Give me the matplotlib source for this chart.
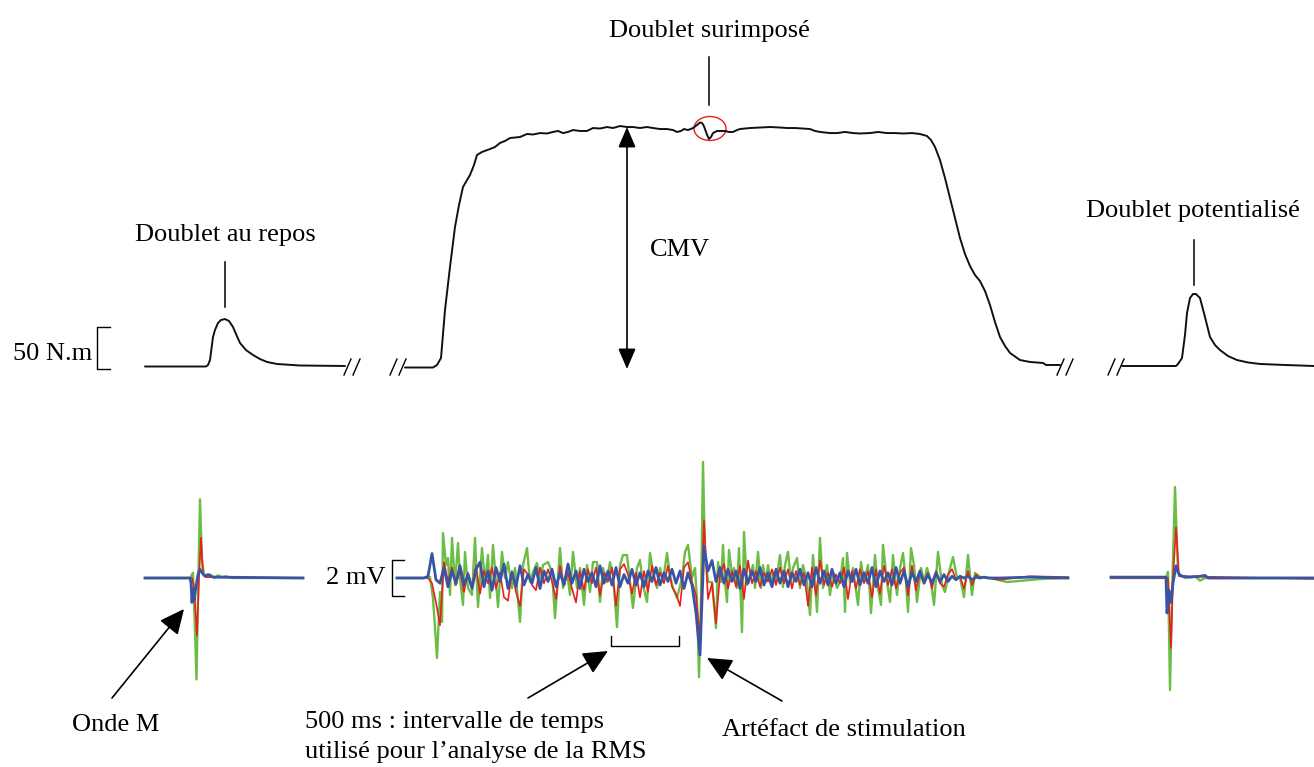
import numpy as np
import matplotlib
matplotlib.use("Agg")
import matplotlib.pyplot as plt
from matplotlib.patches import Ellipse

# ---------------- DATA ----------------
# Torque traces (x = time in drawing units, y = torque in N.m above baseline)
rest_t = [145, 206, 208, 210, 213, 215, 218, 221, 225, 229, 233, 236, 240, 246, 253, 260, 267, 277, 300, 345]
rest_nm = [0, 0, 1.8, 7.7, 35.1, 43.5, 51.8, 55.4, 56.5, 54.2, 47.0, 38.7, 28.0, 19.6, 13.7, 8.9, 5.4, 3.0, 1.2, 0.6]

mvc_t = [405, 433, 437, 441, 445, 450, 455, 459, 463, 467, 470, 474, 477, 482, 490, 495, 500, 505, 510, 520,
         527, 533, 540, 547, 553, 558, 563, 568, 573, 580, 587, 593, 600, 607, 613, 620, 627, 633, 640, 647,
         653, 660, 667, 673, 677, 681, 684, 688, 693, 697, 700, 702, 704, 707, 709, 711, 713, 717, 725, 729,
         733, 737, 740, 750, 760, 770, 780, 787, 795, 803, 810, 815, 820, 830, 837, 845, 853, 860, 870, 878,
         887, 895, 903, 912, 920, 927, 931, 935, 940, 945, 950, 955, 960, 965, 970, 975, 980, 985, 990, 995,
         1000, 1005, 1010, 1020, 1030, 1043, 1046, 1060]
mvc_nm = [-1.2, -1.2, 1.8, 10.1, 67.3, 118.5, 166.1, 192.3, 213.7, 222.0, 227.9, 239.9, 251.8, 255.4, 258.9, 261.3, 266.1, 268.5, 272.0, 273.2,
          276.8, 276.2, 277.9, 277.4, 279.2, 280.4, 277.9, 279.2, 281.5, 280.4, 280.4, 283.9, 283.3, 285.1, 283.9, 286.3, 285.1, 285.1, 283.9, 285.1,
          283.9, 282.7, 282.7, 281.5, 279.2, 280.4, 282.7, 281.5, 283.9, 287.5, 290.5, 290.0, 286.0, 276.0, 270.8, 273.2, 277.9, 280.4, 280.4, 279.2,
          279.2, 281.5, 282.7, 283.9, 284.5, 285.1, 284.5, 283.9, 283.9, 283.3, 282.7, 280.4, 279.2, 277.9, 277.9, 279.2, 277.9, 277.4, 277.9, 279.2,
          277.9, 277.9, 277.4, 277.9, 276.8, 274.4, 269.6, 261.3, 245.8, 224.4, 200.6, 176.7, 152.9, 133.9, 119.6, 108.9, 101.7, 89.9, 73.2, 52.9,
          35.1, 24.4, 16.1, 7.7, 5.4, 4.2, 1.8, 1.8]

pot_t = [1122, 1176, 1178, 1182, 1185, 1187, 1190, 1193, 1196, 1200, 1205, 1210, 1215, 1220, 1228, 1237, 1248, 1260, 1285, 1314]
pot_nm = [0.6, 0.6, 3.0, 10.1, 37.5, 63.7, 81.5, 86.3, 86.3, 81.5, 58.9, 35.1, 25.6, 19.6, 12.5, 7.7, 4.8, 3.0, 1.8, 0.6]

# EMG traces (mV), three muscles: green, red, blue
emg_rest_green_t = [145, 190, 193, 195, 196.5, 198, 200, 202, 204, 207, 210, 214, 218, 222, 226, 232, 303]
emg_rest_green = [0, 0, 0.3, -3.0, -5.8, -1.0, 4.5, 1.0, 0.2, 0.1, 0.2, 0.0, 0.15, 0.05, 0.1, 0, 0]
emg_rest_red_t = [145, 192, 194, 197, 199, 201, 203, 206, 303]
emg_rest_red = [0, 0, -0.5, -3.3, 0, 2.3, 0.2, 0.05, 0]
emg_rest_blue_t = [145, 190, 191, 192, 193, 194, 196, 198, 200, 202, 205, 208, 211, 214, 303]
emg_rest_blue = [0, 0, -0.3, -1.4, -0.6, -1.3, -0.5, 0.2, 0.5, 0.3, 0.1, 0.2, 0.1, 0.05, 0]

emg_mvc_green_t = [397, 425, 430, 433, 437, 440, 442, 443, 446, 448, 450, 452, 455, 458, 460, 463, 465, 468, 472, 475,
                   478, 482, 485, 488, 490, 493, 498, 502, 505, 508, 512, 515, 520, 523, 527, 530, 533, 537, 540, 543,
                   548, 552, 555, 558, 560, 563, 567, 570, 573, 577, 580, 584, 587, 590, 593, 597, 600, 603, 607, 610,
                   613, 617, 620, 623, 627, 630, 633, 637, 640, 643, 647, 650, 653, 657, 660, 663, 667, 670, 673, 677,
                   682, 685, 688, 692, 695, 697, 699, 701, 703, 705, 708, 712, 716, 718, 721, 723, 725, 727, 729, 732,
                   734, 737, 739, 742, 744, 747, 750, 753, 755, 758, 761, 763, 766, 768, 771, 773, 776, 780, 783, 785,
                   788, 791, 793, 797, 800, 803, 807, 810, 813, 817, 820, 823, 827, 830, 833, 837, 840, 843, 845, 847,
                   850, 853, 858, 861, 864, 868, 871, 875, 878, 881, 883, 887, 890, 893, 897, 900, 903, 906, 908, 911,
                   914, 917, 921, 924, 927, 931, 934, 938, 942, 945, 949, 953, 957, 960, 964, 968, 972, 975, 980, 990,
                   1007, 1040, 1068]
emg_mvc_green = [0, 0, 0.06, -1.14, -4.57, -0.80, -2.51, 2.57, 0.74, 1.14, -0.97, 2.29, -0.40, 2.00, 0, -1.54, 1.49, -0.57, -0.97, 2.29,
                 -1.66, 1.71, -0.23, 1.31, -1.14, 1.89, -1.66, 1.49, 0, 0.91, -0.57, 0.57, -2.51, 0.74, 1.71, -0.23, 0.34, 0.86, -0.23, 0.74,
                 0.91, 0.34, -2.29, 0, 1.71, -0.57, 0.34, -0.97, 1.49, -0.57, 0.57, -1.54, 0.74, -0.80, 0.91, 0.91, -1.37, 0.57, -0.23, 0.91,
                 0.17, -2.80, 0.74, 1.31, 1.31, -0.23, -1.71, 0.57, 1.03, -0.40, -1.37, 1.43, 0.34, -0.57, 0.57, -0.23, 1.43, 0.17, -0.57, -1.14,
                 0, 1.49, 1.89, 0, 0.57, -1.26, -5.66, -1.26, 6.63, 1.31, -0.23, -0.23, -2.86, 0.91, -0.23, 1.89, -0.23, -1.37, 1.60, 0.17,
                 0.57, -0.57, 1.71, -3.09, 2.63, -0.40, 0.17, 0.74, -0.57, 1.49, -0.57, 0.74, -0.23, 0.74, -0.40, 0.34, -0.23, 1.31, -0.51, 0.74,
                 1.49, -0.23, 0.57, 1.14, -0.57, 0.74, -0.23, -2.11, 1.31, -1.94, 2.29, -0.57, 0.74, -0.97, 0.34, -0.57, -0.23, 1.14, -1.94, 1.43,
                 -0.23, 0.57, -1.54, 0.91, -0.23, 0.74, -2.00, 1.31, -0.57, -1.54, 1.89, -0.23, -1.37, 1.31, -0.97, 0.57, 1.43, -0.23, -1.94, 1.71,
                 0.74, -1.37, 0.57, -0.23, 0.57, -0.23, -1.54, 1.49, -0.40, -0.80, 0.34, 1.20, 0, 0, -1.09, 1.31, -0.97, 0.29, 0.06, 0,
                 -0.23, -0.06, 0]

emg_mvc_grid_t = list(range(428, 989, 4))
emg_mvc_red = [0, -0.3, -1.4, -2.7, 0.9, -0.2, 0.6, -0.4, 0.5, -0.8, 0.3, -0.5, 0.7, -0.9, 0.4, -0.3, 0.6, -0.6, 0.3, -1.1,
               -1.3, 0.4, -0.8, -1.6, 0.5, 0.2, -0.4, -0.7, 0.6, -0.3, 0.5, -0.2, -1.2, 0.7, -0.4, 0.3, -0.6, -1.4, 0.4, -0.7,
               0.5, -0.3, 0.6, -1.0, 0.3, -0.2, 0.6, -1.6, 0.5, 0.8, 0.2, -0.9, 0.3, -1.1, 0.4, -0.8, 0.7, -0.4, 0.3, -0.3,
               0.7, -0.5, -0.9, -1.6, 0.6, 0.9, -0.2, -1.0, -3.5, 3.3, -1.2, -0.3, -2.6, 0.2, 0.8, -0.6, 0.4, -0.5, 0.7, -1.2,
               1.0, -0.3, 0.4, -0.5, 0.3, -0.2, 0.5, -0.4, 0.6, -0.3, 0.5, -0.6, 0.4, -0.4, 0.3, -1.6, 0.6, -1.0, 1.0, -0.4,
               0.3, -0.5, 0.2, -0.3, 0.6, -1.2, 0.4, -0.6, 0.5, -0.3, 0.4, -1.1, 0.5, -0.9, 0.7, -0.4, 0.5, -0.6, 0.3, 0.6,
               -1.0, 0.7, -0.7, 0.3, -0.2, 0.3, -0.6, 0.4, -0.3, -0.5, 0.2, 0.5, -0.1, 0.1, -0.6, 0.4, -0.4, 0.2, 0.0, 0.05,
               0.0]
emg_mvc_blue = [0.1, 1.4, -0.1, -0.3, 0.6, -0.5, 0.4, -0.3, 0.7, -0.4, 0.2, -0.6, 0.5, 0.9, -0.5, 0.4, -0.7, 0.6, -0.2, 0.8,
                -0.6, 0.3, -0.5, 0.7, -0.4, 0.2, -0.3, 0.6, -0.6, 0.4, -0.2, 0.5, -0.5, 0.3, -0.4, 0.8, -0.3, 0.4, -0.6, 0.5,
                -0.2, 0.3, -0.5, 0.7, -0.3, 0.4, -0.4, 0.6, -0.5, 0.2, -0.3, 0.5, -0.4, 0.3, -0.5, 0.4, -0.2, 0.6, -0.4, 0.3,
                -0.2, 0.5, -0.3, 0.4, -0.6, 0.3, -0.4, -2.0, -4.4, 1.8, 0.4, 1.0, -0.2, 0.6, -0.3, 0.5, -0.2, 0.4, -0.6, 0.5,
                -0.3, 0.4, -0.2, 0.6, -0.4, 0.3, -0.5, 0.5, -0.3, 0.4, -0.5, 0.3, -0.2, 0.5, -0.4, 0.3, -0.5, 0.6, -0.3, 0.4,
                -0.4, 0.5, -0.3, 0.3, -0.5, 0.4, -0.2, 0.5, -0.4, 0.3, -0.3, 0.6, -0.5, 0.4, -0.2, 0.3, -0.4, 0.6, -0.3, 0.4,
                -0.5, 0.3, -0.2, 0.4, -0.3, 0.2, -0.3, 0.3, -0.2, 0.2, -0.2, 0.1, -0.1, 0.1, 0.0, 0.1, -0.1, 0.05, 0.0, 0.05,
                0.0]
emg_mvc_head_t = [397, 424]
emg_mvc_tail_t = [988, 1000, 1030, 1068]
emg_mvc_red_tail = [0.0, -0.1, 0.1, 0.05]
emg_mvc_blue_tail = [0.0, 0.0, 0.05, 0.0]

emg_pot_green_t = [1111, 1166, 1168, 1170, 1172, 1175, 1178, 1185, 1195, 1200, 1205, 1314]
emg_pot_green = [0, 0, 0.35, -6.4, -1.0, 5.2, 0.3, 0, 0.1, -0.15, 0, 0]
emg_pot_red_t = [1111, 1168, 1171, 1173, 1176, 1179, 1314]
emg_pot_red = [0, 0, -4.0, 0, 2.9, 0.1, -0.05]
emg_pot_blue_t = [1111, 1166, 1167, 1169, 1171, 1173, 1176, 1179, 1182, 1190, 1200, 1205, 1208, 1314]
emg_pot_blue = [0.05, 0.05, -2.0, -0.7, -1.4, -0.3, 0.7, 0.2, 0.1, 0.05, 0.1, 0.15, 0, 0]

# ---------------- FIGURE ----------------
W, H = 1314, 767
fig = plt.figure(figsize=(W / 100, H / 100), dpi=100)
ax = fig.add_axes([0, 0, 1, 1])
ax.set_xlim(0, W)
ax.set_ylim(H, 0)
ax.axis("off")

# torque axes: baseline at 366.5 px, 50 N.m = 42 px
axT = fig.add_axes([0, 0, 1, 1], sharex=ax)
axT.set_ylim((366.5 - H) / 0.84, 366.5 / 0.84)
axT.axis("off")
axT.patch.set_alpha(0)
# EMG axes: baseline at 578 px, 2 mV = 35 px
axE = fig.add_axes([0, 0, 1, 1], sharex=ax)
axE.set_ylim((578 - H) / 17.5, 578 / 17.5)
axE.axis("off")
axE.patch.set_alpha(0)

kw = dict(color="#111111", lw=1.4, solid_joinstyle="round", solid_capstyle="round")
axT.plot(rest_t, rest_nm, **kw)
axT.plot(mvc_t, mvc_nm, **kw)
axT.plot(pot_t, pot_nm, **kw)

GREEN, RED, BLUE = "#6cbd45", "#e8201c", "#3a54a5"
jk = dict(solid_joinstyle="round")
gw, rw, bw = 1.7, 1.2, 2.0
axE.plot(emg_rest_green_t, emg_rest_green, color=GREEN, lw=gw, **jk)
axE.plot(emg_rest_red_t, emg_rest_red, color=RED, lw=rw, **jk)
axE.plot(emg_rest_blue_t, emg_rest_blue, color=BLUE, lw=bw, **jk)

axE.plot(emg_mvc_green_t, emg_mvc_green, color=GREEN, lw=gw, **jk)
axE.plot(emg_mvc_head_t + emg_mvc_grid_t + emg_mvc_tail_t[1:],
         [0, 0] + emg_mvc_red + emg_mvc_red_tail[1:], color=RED, lw=rw, **jk)
axE.plot(emg_mvc_head_t + emg_mvc_grid_t + emg_mvc_tail_t[1:],
         [0, 0] + emg_mvc_blue + emg_mvc_blue_tail[1:], color=BLUE, lw=bw, **jk)

axE.plot(emg_pot_green_t, emg_pot_green, color=GREEN, lw=gw, **jk)
axE.plot(emg_pot_red_t, emg_pot_red, color=RED, lw=rw, **jk)
axE.plot(emg_pot_blue_t, emg_pot_blue, color=BLUE, lw=bw, **jk)

# ---------------- ANNOTATIONS ----------------
FONT = "Liberation Serif"
FS = 19
tk = dict(family=FONT, fontsize=FS, color="black")

ax.text(709, 31, "Doublet surimposé", ha="center", va="center", **tk)
ax.plot([709, 709], [57, 105], color="black", lw=1.1)
ax.add_patch(Ellipse((710, 128.5), 32, 24, fill=False, edgecolor="#e8201c", lw=1.0))

ax.text(225, 235, "Doublet au repos", ha="center", va="center", **tk)
ax.plot([225, 225], [262, 307], color="black", lw=1.1)

ax.text(1193, 211, "Doublet potentialisé", ha="center", va="center", **tk)
ax.plot([1194, 1194], [240, 285], color="black", lw=1.1)

ax.text(680, 250, "CMV", ha="center", va="center", **tk)
ax.annotate("", xy=(627, 127), xytext=(627, 369),
            arrowprops=dict(arrowstyle="<|-|>,head_length=0.7,head_width=0.3", color="black", lw=1.2,
                            mutation_scale=18, shrinkA=0, shrinkB=0))

# scale bars
ax.text(92, 354, "50 N.m", ha="right", va="center", **tk)
ax.plot([110, 97, 97, 110], [327, 327, 369, 369], color="black", lw=1.0)
ax.text(386, 578, "2 mV", ha="right", va="center", **tk)
ax.plot([404, 392, 392, 404], [560, 560, 596, 596], color="black", lw=1.0)

# break marks
for x0 in (344, 353, 390, 399, 1057, 1066, 1108, 1117):
    ax.plot([x0, x0 + 7], [375, 359], color="black", lw=1.0)

# RMS bracket
ax.plot([611, 611, 679, 679], [636, 646, 646, 636], color="black", lw=1.0)

# arrows
ap = dict(arrowstyle="-|>,head_length=0.85,head_width=0.4", color="black", lw=1.2,
          mutation_scale=18, shrinkA=0, shrinkB=0)
ax.annotate("", xy=(184, 609), xytext=(112, 698), arrowprops=ap)
ax.annotate("", xy=(608, 651), xytext=(528, 698), arrowprops=ap)
ax.annotate("", xy=(707, 658), xytext=(782, 701), arrowprops=ap)

ax.text(116, 725, "Onde M", ha="center", va="center", **tk)
ax.text(305, 722, "500 ms : intervalle de temps", ha="left", va="center", **tk)
ax.text(305, 752, "utilisé pour l’analyse de la RMS", ha="left", va="center", **tk)
ax.text(722, 730, "Artéfact de stimulation", ha="left", va="center", **tk)

fig.savefig("out.png", dpi=100)
